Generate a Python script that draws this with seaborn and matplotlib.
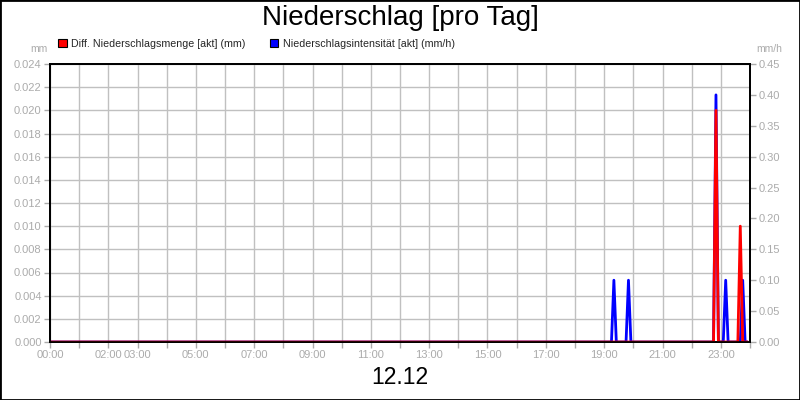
import matplotlib
matplotlib.use("Agg")
import matplotlib.pyplot as plt
from matplotlib.patches import Patch, Rectangle
import seaborn as sns
import pandas as pd

# ---- data ----
red_times = ["00:00", "22:45", "22:50", "22:55", "23:35", "23:40", "23:45", "23:55"]
red_values = [0.0, 0.0, 0.020, 0.0, 0.0, 0.010, 0.0, 0.0]          # mm (left axis)

blue_times = ["00:00", "19:15", "19:20", "19:25", "19:45", "19:50", "19:55",
              "22:45", "22:50", "22:55", "23:05", "23:10", "23:15",
              "23:40", "23:45", "23:50", "23:55"]
blue_values = [0.0, 0.0, 0.1, 0.0, 0.0, 0.1, 0.0,
               0.0, 0.4, 0.0, 0.0, 0.1, 0.0,
               0.0, 0.1, 0.0, 0.0]                                   # mm/h (right axis)

x_label_hours = ["00:00", "02:00", "03:00", "05:00", "07:00", "09:00", "11:00",
                 "13:00", "15:00", "17:00", "19:00", "21:00", "23:00"]
left_ticks = [0.000, 0.002, 0.004, 0.006, 0.008, 0.010, 0.012, 0.014,
              0.016, 0.018, 0.020, 0.022, 0.024]
right_ticks = [0.00, 0.05, 0.10, 0.15, 0.20, 0.25, 0.30, 0.35, 0.40, 0.45]

title = "Niederschlag [pro Tag]"
date_label = "12.12"
red_name = "Diff. Niederschlagsmenge [akt] (mm)"
blue_name = "Niederschlagsintensität [akt] (mm/h)"


def to_hours(t):
    h, m = t.split(":")
    return int(h) + int(m) / 60.0


red_df = pd.DataFrame({"t": [to_hours(t) for t in red_times], "v": red_values})
blue_df = pd.DataFrame({"t": [to_hours(t) for t in blue_times], "v": blue_values})

sns.set_theme(style="white")
plt.rcParams["font.family"] = ["Liberation Sans", "DejaVu Sans"]

GRAY = "#ABABAB"
GRID = "#C0C0C0"

fig = plt.figure(figsize=(8, 4), dpi=100)
fig.patch.set_facecolor("white")
ax = fig.add_axes([50 / 800, 58 / 400, 700 / 800, 278 / 400])
ax2 = ax.twinx()
ax3 = ax.twinx()

# blue on right axis, red on top with left-axis scale
sns.lineplot(data=blue_df, x="t", y="v", ax=ax2, color="#0000FF", linewidth=2.0)
sns.lineplot(data=red_df, x="t", y="v", ax=ax3, color="#FF0000", linewidth=2.0)

ax.set_xlim(0, 24)
ax.set_ylim(left_ticks[0], left_ticks[-1])
ax3.set_ylim(left_ticks[0], left_ticks[-1])
ax2.set_ylim(right_ticks[0], right_ticks[-1])

# x ticks: every hour, labels only on selected hours
hours = list(range(0, 25))
ax.set_xticks(hours)
label_set = {to_hours(t): t for t in x_label_hours}
ax.set_xticklabels([label_set.get(float(h), "") for h in hours])

ax.set_yticks(left_ticks)
ax.set_yticklabels([f"{v:.3f}" for v in left_ticks])
ax2.set_yticks(right_ticks)
ax2.set_yticklabels([f"{v:.2f}" for v in right_ticks])

ax.grid(True, color=GRID, linewidth=1.0)
ax.set_axisbelow(True)

for a in (ax, ax2, ax3):
    a.set_xlabel("")
    a.set_ylabel("")
    for s in a.spines.values():
        s.set_color("black")
        s.set_linewidth(1.2)

ax.tick_params(axis="both", colors=GRAY, labelcolor=GRAY, labelsize=8,
               length=4, width=1, direction="out", pad=2,
               bottom=True, left=True)
ax2.tick_params(axis="y", colors=GRAY, labelcolor=GRAY, labelsize=8,
                length=4, width=1, direction="out", pad=2, right=True)
ax3.set_yticks([])
ax3.tick_params(axis="y", right=False, labelright=False)

# texts
fig.text(0.5, 1 - 18 / 400, title, ha="center", va="center", fontsize=20, color="black")
fig.text(0.5, 1 - 377 / 400, date_label, ha="center", va="center", fontsize=16.5, color="black")
fig.text(48 / 800, 1 - 49 / 400, "mm", ha="right", va="center", fontsize=7.5, color=GRAY)
fig.text(756 / 800, 1 - 49 / 400, "mm/h", ha="left", va="center", fontsize=7.5, color=GRAY)

handles = [Patch(facecolor="#FF0000", edgecolor="black", linewidth=0.8, label=red_name),
           Patch(facecolor="#0000FF", edgecolor="black", linewidth=0.8, label=blue_name)]
fig.legend(handles=handles, loc="center left", bbox_to_anchor=(58 / 800, 1 - 44 / 400),
           ncol=2, frameon=False, fontsize=7.7, handlelength=0.8, handleheight=0.8,
           handletextpad=0.4, columnspacing=2.3, borderaxespad=0, borderpad=0)

fig.patches.append(Rectangle((0, 0), 1, 1, transform=fig.transFigure, fill=False,
                             edgecolor="black", linewidth=2.0, figure=fig))

fig.savefig("out.png", dpi=100)
